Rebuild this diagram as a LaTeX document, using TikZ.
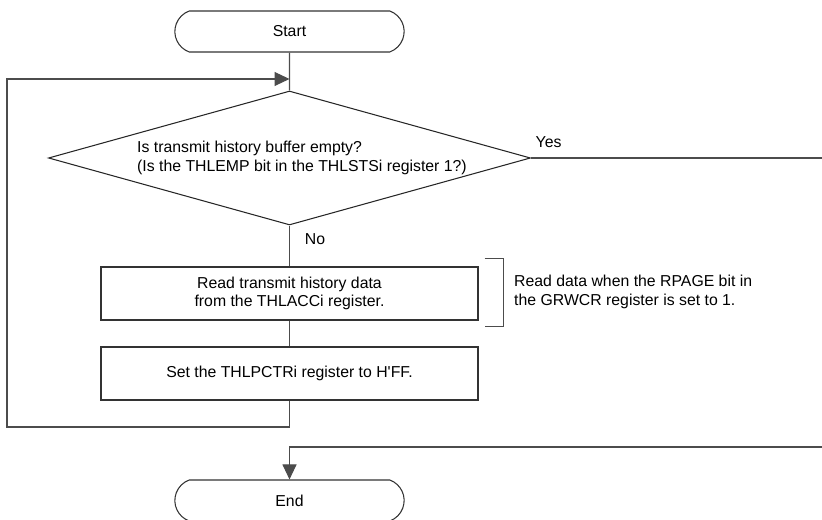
\documentclass[tikz,border=0pt]{standalone}
\usepackage{fontspec}
\setmainfont{Liberation Sans}
\usetikzlibrary{shapes.geometric,shapes.misc,arrows.meta}

\begin{document}
\begin{tikzpicture}[font=\fontsize{9}{10.5}\selectfont,
  term/.style={rounded rectangle, rounded rectangle arc length=140, draw=black!80, line width=0.6pt, minimum width=4.82cm, minimum height=0.82cm},
  proc/.style={rectangle, draw=black!80, line width=0.6pt, minimum width=7.54cm, minimum height=1.06cm, align=center},
  cond/.style={diamond, draw=black!85, line width=0.6pt, minimum width=9.64cm, minimum height=2.68cm, aspect=3.6, inner sep=0pt, align=left},
  flow/.style={draw=black!70, line width=0.6pt},
  tip/.style={-{Triangle[length=0.3cm, width=0.28cm]}}]
  \useasboundingbox (0,0) rectangle (16.44,10.4);
  \node[term] (start) at (5.79,9.77) {Start};
  \coordinate (merge) at (5.79,8.82);
  \node[cond] (test) at (5.79,7.24) {\hspace*{0.5cm}Is transmit history buffer empty?\\\hspace*{0.5cm}(Is the THLEMP bit in the THLSTSi register 1?)};
  \node[proc] (read) at (5.79,4.53) {Read transmit history data\\from the THLACCi register.};
  \node[proc] (set) at (5.79,2.93) {Set the THLPCTRi register to H\textquotesingle FF.};
  \node[term] (end) at (5.79,0.39) {End};
  \node[anchor=west, align=left] (note) at (10.16,4.56) {Read data when the RPAGE bit in\\the GRWCR register is set to 1.};
  \coordinate (loopbot) at (0.14,1.86);
  \coordinate (yesout) at (16.44,7.24);
  \coordinate (retin) at (16.44,1.46);
  \draw[flow] (start) -- (test);
  \draw[flow] (test) -- node[pos=0.33, anchor=west, xshift=0.18cm] {No} (read);
  \draw[flow] (read) -- (set);
  \draw[flow, tip] (set) |- (loopbot) |- (merge);
  \draw[flow] (test) -- node[pos=0, anchor=south west, xshift=-1pt, yshift=2pt] {Yes} (yesout);
  \draw[flow, tip] (retin) -| (end);
  % bracket for the note
  \draw[flow] ([xshift=0.12cm, yshift=0.16cm]read.north east) -| ([xshift=0.5cm, yshift=-0.12cm]read.south east) -- ([xshift=0.12cm, yshift=-0.12cm]read.south east);
\end{tikzpicture}
\end{document}
